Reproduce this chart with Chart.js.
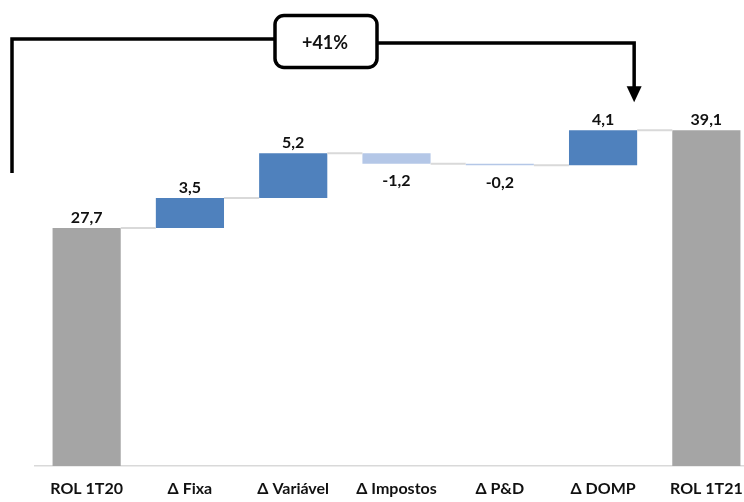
<!DOCTYPE html>
<html lang="pt">
<head>
  <meta charset="UTF-8" />
  <title>ROL 1T20 → 1T21</title>
  <script src="https://cdn.jsdelivr.net/npm/chart.js"></script>
  <style>
    body {
      margin: 0;
      background: #ffffff;
      overflow: hidden;
    }
    .wrap {
      width: 758px;
      height: 502px;
    }
  </style>
</head>
<body>
  <div class="wrap">
    <canvas id="wf" width="758" height="502"></canvas>
  </div>

  <script>
    const categories = ["ROL 1T20", "Δ Fixa", "Δ Variável", "Δ Impostos", "Δ P&D", "Δ DOMP", "ROL 1T21"];
    const startValue = 27.7;
    const deltas = [3.5, 5.2, -1.2, -0.2, 4.1];
    const endValue = 39.1;
    const growthLabel = "+41%";

    const GREY = "#a5a5a5";
    const BLUE = "#4f81bd";
    const LIGHT = "#b4c7e7";
    const FONT = "Lato, 'Open Sans', sans-serif";

    // floating bars [bottom, top] built from start + deltas
    const ranges = [[0, startValue]];
    const shown = [startValue];
    let level = startValue;
    deltas.forEach(d => {
      ranges.push([level, level + d]);
      shown.push(d);
      level += d;
    });
    ranges.push([0, endValue]);
    shown.push(endValue);

    const colors = shown.map((v, i) =>
      (i === 0 || i === shown.length - 1) ? GREY : (v >= 0 ? BLUE : LIGHT)
    );

    const fmt = v => v.toFixed(1).replace(".", ",");

    const extras = {
      id: "extras",
      afterDatasetsDraw(chart) {
        const c = chart.ctx;
        const y = chart.scales.y;
        const bars = chart.getDatasetMeta(0).data;

        // connectors between bars
        c.save();
        c.strokeStyle = "#d9d9d9";
        c.lineWidth = 2;
        for (let i = 0; i < bars.length - 1; i++) {
          const lv = ranges[i][1];
          const py = y.getPixelForValue(lv);
          c.beginPath();
          c.moveTo(bars[i].x + bars[i].width / 2, py);
          c.lineTo(bars[i + 1].x - bars[i + 1].width / 2, py);
          c.stroke();
        }
        c.restore();

        // value labels
        c.save();
        c.fillStyle = "#111";
        c.font = "bold 16px " + FONT;
        c.textAlign = "center";
        c.textBaseline = "middle";
        bars.forEach((b, i) => {
          const v = shown[i];
          const top = y.getPixelForValue(Math.max(ranges[i][0], ranges[i][1]));
          const bot = y.getPixelForValue(Math.min(ranges[i][0], ranges[i][1]));
          const ly = v >= 0 ? top - 10 : bot + 17;
          c.fillText(fmt(v), b.x, ly);
        });
        c.restore();

        // growth bracket with box and arrow
        const area = chart.chartArea;
        const lx = area.left - 23;
        const rx = bars[5].x + bars[5].width / 2 - 3;
        const tipY = y.getPixelForValue(endValue) - 28;
        c.save();
        c.strokeStyle = "#000";
        c.fillStyle = "#000";
        c.lineWidth = 3.5;
        c.lineJoin = "miter";
        c.beginPath();
        c.moveTo(lx, 173);
        c.lineTo(lx, 39);
        c.lineTo(275, 39);
        c.stroke();
        c.beginPath();
        c.moveTo(377, 43);
        c.lineTo(rx, 43);
        c.lineTo(rx, tipY - 14);
        c.stroke();
        c.beginPath();
        c.moveTo(rx - 7.5, tipY - 16);
        c.lineTo(rx + 7.5, tipY - 16);
        c.lineTo(rx, tipY);
        c.closePath();
        c.fill();

        c.lineWidth = 3.5;
        c.beginPath();
        c.roundRect(275, 15.5, 102, 52, 9);
        c.fillStyle = "#fff";
        c.fill();
        c.stroke();
        c.fillStyle = "#111";
        c.font = "bold 18px " + FONT;
        c.textAlign = "center";
        c.textBaseline = "middle";
        c.fillText(growthLabel, 325, 43);
        c.restore();
      }
    };

    new Chart(document.getElementById("wf"), {
      type: "bar",
      data: {
        labels: categories,
        datasets: [{
          data: ranges,
          backgroundColor: colors,
          borderWidth: 0,
          categoryPercentage: 1,
          barPercentage: 0.66
        }]
      },
      options: {
        responsive: false,
        animation: false,
        layout: { padding: { left: 35, right: 0, top: 0, bottom: 0 } },
        plugins: {
          legend: { display: false },
          tooltip: { enabled: false }
        },
        scales: {
          x: {
            grid: { display: false, drawTicks: false },
            border: { display: true, color: "#d9d9d9", width: 1.5 },
            ticks: {
              color: "#111",
              font: { family: FONT, size: 16, weight: "bold" },
              padding: 13,
              maxRotation: 0,
              autoSkip: false
            },
            afterFit(scale) { scale.height = 36; }
          },
          y: {
            display: false,
            min: 0,
            max: 54.25
          }
        }
      },
      plugins: [extras]
    });
  </script>
</body>
</html>
